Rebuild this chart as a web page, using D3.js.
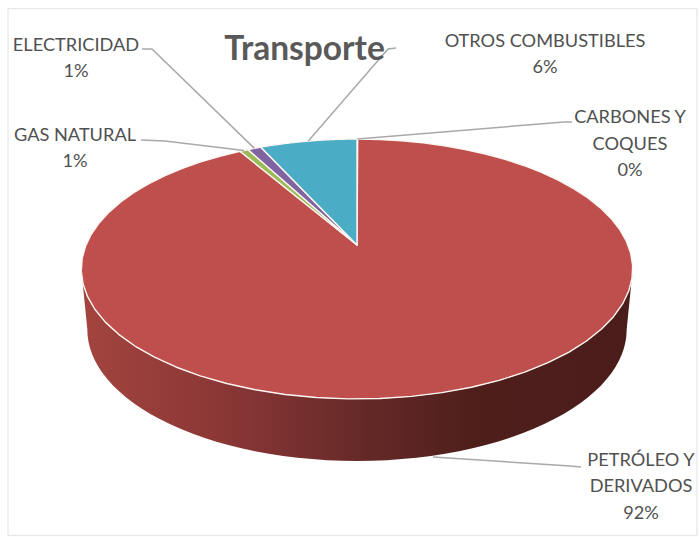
<!DOCTYPE html>
<html><head><meta charset="utf-8">
<script src="https://cdn.jsdelivr.net/npm/d3@7"></script>
<style>html,body{margin:0;padding:0;background:#fff}svg{display:block}</style>
</head><body><svg id="c" width="700" height="537"></svg>
<script>
const categories=["CARBONES Y COQUES","PETRÓLEO Y DERIVADOS","GAS NATURAL","ELECTRICIDAD","OTROS COMBUSTIBLES"];
const values=[0.05,91.6,0.6,0.95,6.8];
const percentLabels=["0%","92%","1%","1%","6%"];
const sliceColors=["#4f81bd","#bf4f4c","#9bbb59","#8064a2","#4bacc6"];

const svg=d3.select("#c");
const W=700,H=537;
svg.append("rect").attr("width",W).attr("height",H).attr("fill","#fff");
svg.append("rect").attr("x",8).attr("y",8.5).attr("width",689).attr("height",527)
  .attr("fill","none").attr("stroke","#e6e6e6").attr("stroke-width",1.2);

// perspective projection of the pie disc
const cx=357,kx=271,apexY=245,A=-80.3,C=0.1846;
const proj=t=>{const u=Math.sin(t),v=Math.cos(t),w=1+C*v;
  return [cx+kx*u/w,(A*v+apexY)/w];};
const lower=p=>[cx+(p[0]-cx)*0.978,461-(399-p[1])*1.012];

const pie=d3.pie().sort(null).value(d=>d)(values);
const samples=(a,b)=>d3.range(0,61).map(i=>a+(b-a)*i/60);
const line=d3.line();

const defs=svg.append("defs");
const g=defs.append("linearGradient").attr("id","side").attr("gradientUnits","userSpaceOnUse")
  .attr("x1",81).attr("x2",633).attr("y1",0).attr("y2",0);
[[0,"#a4443f"],[0.3,"#853534"],[0.5,"#662a28"],[0.72,"#4e1e1b"],[1,"#4b1d1a"]]
  .forEach(s=>g.append("stop").attr("offset",s[0]).attr("stop-color",s[1]));

// side wall: the visible front half of the disc rim
const tR=Math.PI/2+Math.asin(C),tL=2*Math.PI-tR;
const rim=samples(tR,tL).map(proj);
const wall=rim.concat(rim.map(lower).reverse());
svg.append("path").attr("d",line(wall)+"Z").attr("fill","url(#side)");

// top surface
svg.selectAll("path.slice").data(pie).join("path").attr("class","slice")
  .attr("d",d=>{const pts=samples(d.startAngle,d.endAngle).map(proj);
    return line([[cx,apexY],...pts])+"Z";})
  .attr("fill",(d,i)=>sliceColors[i])
  .attr("stroke","#fdf6f2").attr("stroke-width",1.4).attr("stroke-linejoin","round");

// labels and leader lines
const labelLayout=[
 {x:630,lines:[123,150,176],parts:["CARBONES Y","COQUES"],elbow:[[572,122],[564,122]]},
 {x:641,lines:[466,492,519],parts:["PETRÓLEO Y","DERIVADOS"],elbow:[[581,467],[570,466]],anchorAt:[433,457]},
 {x:75,lines:[141,167],parts:["GAS NATURAL"],elbow:[[141,140],[165,141]]},
 {x:76,lines:[51,77],parts:["ELECTRICIDAD"],elbow:[[142,49],[152,49]]},
 {x:545,lines:[47,73],parts:["OTROS COMBUSTIBLES"],elbow:[[396,48],[388,49]]}
];
const font="Lato, 'Open Sans', sans-serif";
pie.forEach((d,i)=>{
  const L=labelLayout[i];
  const mid=(d.startAngle+d.endAngle)/2;
  const end=L.anchorAt||proj(mid);
  svg.append("path").attr("d",line([L.elbow[0],L.elbow[1],end]))
    .attr("fill","none").attr("stroke","#a9a9a9").attr("stroke-width",1.5);
  const t=[...L.parts,percentLabels[i]];
  t.forEach((s,j)=>svg.append("text").attr("x",L.x).attr("y",L.lines[j])
    .attr("text-anchor","middle").attr("font-family",font).attr("font-size",18.2)
    .attr("fill","#505050").text(s));
});
svg.append("text").attr("x",304.5).attr("y",60).attr("text-anchor","middle")
  .attr("font-family",font).attr("font-weight",700).attr("font-size",33.5)
  .attr("fill","#595959").text("Transporte");
</script></body></html>
